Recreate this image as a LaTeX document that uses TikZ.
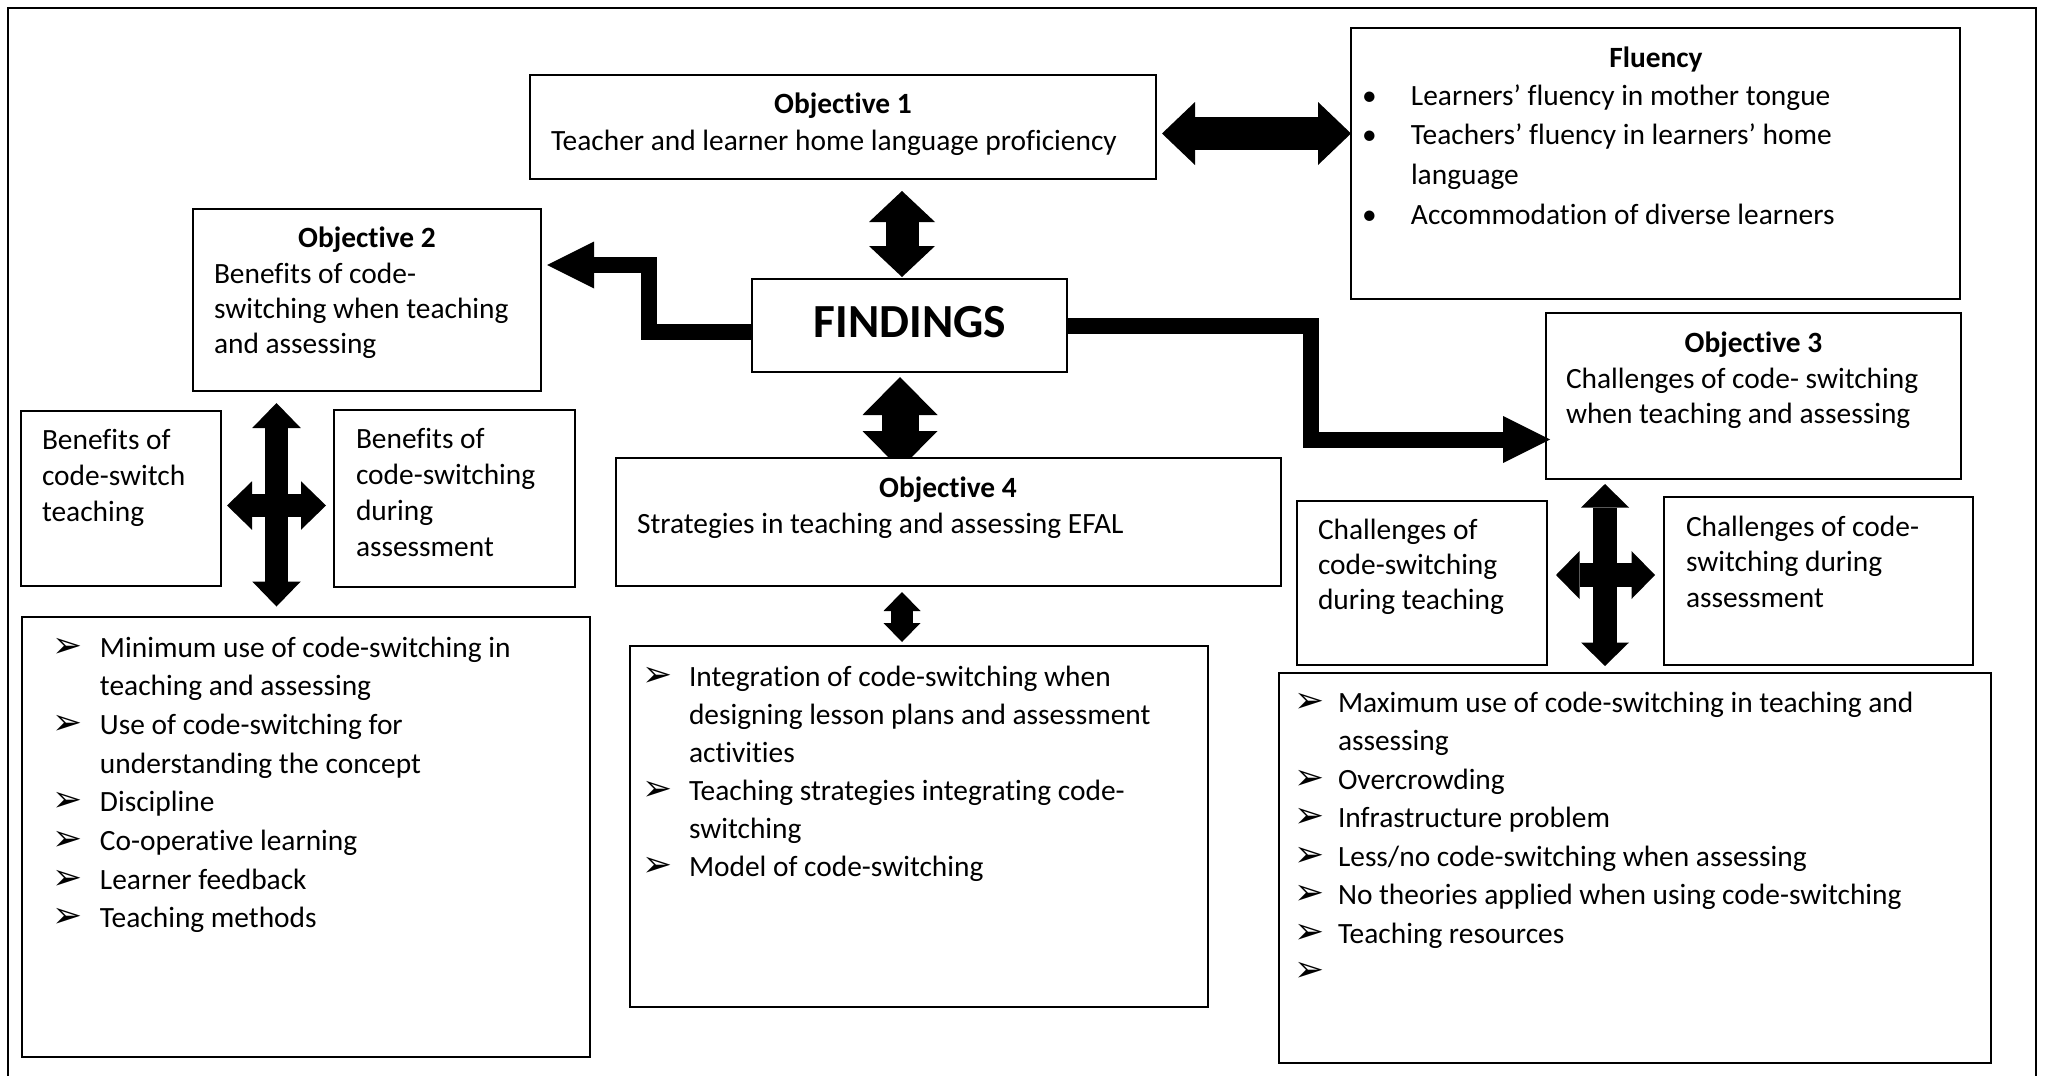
\documentclass[tikz,border=0pt]{standalone}
\usepackage{fontspec}
\setmainfont{Carlito}[Ligatures={TeX,NoCommon}]
\newfontfamily\dingfont{DejaVu Sans}
\usetikzlibrary{arrows.meta,fit,calc}

% list markers
\newcommand\arrowbullet{{\dingfont\fontsize{18}{18}\selectfont ➢}}
\newcommand\itm[1]{\makebox[#1][l]{\arrowbullet}}
\newcommand\dotitm[1]{\makebox[#1][l]{•}}
\newcommand\contline[1]{\hspace*{#1}}
% a framed box given by its top-left and bottom-right corners
\newcommand\boxnode[5]{%
  \coordinate (#1-a) at (#2,#3);
  \coordinate (#1-b) at (#4,#5);
  \node[box, fit=(#1-a)(#1-b)] (#1) {};}

\tikzset{
  x=0.5pt, y=-0.5pt,
  box/.style={draw, line width=0.8pt, inner sep=0pt, outer sep=0pt},
  txt/.style={anchor=north west, inner sep=0pt, outer sep=0pt, align=left,
              font=\fontsize{14.7}{#1}\selectfont, yshift=0.7*#1pt},
  ttl/.style={anchor=base, inner sep=0pt, outer sep=0pt,
              font=\fontsize{14.7}{17.75}\selectfont\bfseries},
  blk/.style n args={3}{line width=#1,
     {Triangle[length=#3,width=#2,line width=0pt 0]}-{Triangle[length=#3,width=#2,line width=0pt 0]}},
  elb/.style={line width=8pt, line join=miter,
     -{Triangle[length=23.5pt,width=23.5pt,line width=0pt 0]}},
}

\begin{document}
\begin{tikzpicture}
\useasboundingbox (0,0) rectangle (2046,1076);

% outer frame, open at the bottom
\draw[line width=1.3pt] (8,1090) -- (8,8) -- (2036,8) -- (2036,1090);

% boxes
\boxnode{obj1}{530}{75}{1156}{179}
\boxnode{flu}{1351}{28}{1960}{299}
\boxnode{obj2}{193}{209}{541}{391}
\boxnode{findings}{752}{279}{1067}{372}
\boxnode{obj3}{1546}{313}{1961}{479}
\boxnode{obj4}{616}{458}{1281}{586}
\boxnode{ben1}{21}{411}{221}{586}
\boxnode{ben2}{334}{410}{575}{587}
\boxnode{list2}{22}{617}{590}{1057}
\boxnode{list4}{630}{646}{1208}{1007}
\boxnode{chal1}{1297}{501}{1547}{665}
\boxnode{chal2}{1664}{497}{1973}{665}
\boxnode{list3}{1279}{673}{1991}{1063}

% texts
\node[ttl] (obj1h) at (843,113) {Objective 1};
\node[txt=19.25] (obj1t) at (551,150) {\strut Teacher and learner home language proficiency};

\node[ttl] (fluh) at (1656,67) {Fluency};
\node[txt=19.85] (flut) at (1362,105) {%
  \strut\dotitm{24.5pt}Learners’ fluency in mother tongue\\
  \strut\dotitm{24.5pt}Teachers’ fluency in learners’ home\\
  \strut\contline{24.5pt}language\\
  \strut\dotitm{24.5pt}Accommodation of diverse learners};

\node[ttl] (obj2h) at (367,247) {Objective 2};
\node[txt=17.5] (obj2t) at (214,283) {%
  \strut Benefits of code-\\
  \strut switching when teaching\\
  \strut and assessing};

\node[anchor=base, inner sep=0pt, font=\fontsize{23.75}{28}\selectfont\bfseries]
  (findingst) at (910,337) {FINDINGS};

\node[ttl] (obj3h) at (1753.5,352) {Objective 3};
\node[txt=17.5] (obj3t) at (1566,388) {%
  \strut Challenges of code- switching\\
  \strut when teaching and assessing};

\node[ttl] (obj4h) at (948,497) {Objective 4};
\node[txt=17.5] (obj4t) at (637,533) {\strut Strategies in teaching and assessing EFAL};

\node[txt=18] (ben1t) at (42,449) {%
  \strut Benefits of\\
  \strut code-switch\\
  \strut teaching};
\node[txt=18] (ben2t) at (356,448) {%
  \strut Benefits of\\
  \strut code-switching\\
  \strut during\\
  \strut assessment};

\node[txt=17.5] (chal1t) at (1318,539) {%
  \strut Challenges of\\
  \strut code-switching\\
  \strut during teaching};
\node[txt=17.75] (chal2t) at (1686,536) {%
  \strut Challenges of code-\\
  \strut switching during\\
  \strut assessment};

\node[txt=19.35] (list2t) at (53,657) {%
  \strut\itm{23.5pt}Minimum use of code-switching in\\
  \strut\contline{23.5pt}teaching and assessing\\
  \strut\itm{23.5pt}Use of code-switching for\\
  \strut\contline{23.5pt}understanding the concept\\
  \strut\itm{23.5pt}Discipline\\
  \strut\itm{23.5pt}Co-operative learning\\
  \strut\itm{23.5pt}Learner feedback\\
  \strut\itm{23.5pt}Teaching methods};

\node[txt=19] (list4t) at (642,686) {%
  \strut\itm{23.5pt}Integration of code-switching when\\
  \strut\contline{23.5pt}designing lesson plans and assessment\\
  \strut\contline{23.5pt}activities\\
  \strut\itm{23.5pt}Teaching strategies integrating code-\\
  \strut\contline{23.5pt}switching\\
  \strut\itm{23.5pt}Model of code-switching};

\node[txt=19.25] (list3t) at (1294,712) {%
  \strut\itm{22pt}Maximum use of code-switching in teaching and\\
  \strut\contline{22pt}assessing\\
  \strut\itm{22pt}Overcrowding\\
  \strut\itm{22pt}Infrastructure problem\\
  \strut\itm{22pt}Less/no code-switching when assessing\\
  \strut\itm{22pt}No theories applied when using code-switching\\
  \strut\itm{22pt}Teaching resources\\
  \strut\itm{22pt}};

% guide coordinates for the block arrows
\coordinate (ay) at (0,133.5);
\coordinate (bx) at (902,0);
\coordinate (cx) at (900,0);
\coordinate (dx) at (902,0);
\coordinate (ex) at (276.5,0);
\coordinate (ey) at (0,505.5);
\coordinate (fx) at (1605,0);
\coordinate (fy) at (0,575);
\coordinate (gk) at (648.5,265);
\coordinate (hk) at (1310.5,439.5);

% block arrows
\draw[blk={16.5pt}{31.5pt}{16.5pt}, shorten <=3pt] (obj1.east |- ay) -- (flu.west |- ay);
\draw[blk={16.5pt}{33pt}{15.5pt}, shorten <=6pt, shorten >=1pt] (obj1.south -| bx) -- (findings.north -| bx);
\begin{scope}
  \clip (findings.north west) rectangle (obj4.north east);
  \draw[blk={18.5pt}{37.5pt}{19pt}, shorten <=2.5pt, shorten >=-5.5pt] (findings.south -| cx) -- (obj4.north -| cx);
\end{scope}
\draw[blk={11pt}{18.5pt}{9.5pt}, shorten <=3pt, shorten >=2pt] (obj4.south -| dx) -- (list4.north -| dx);

\draw[blk={11.75pt}{24.25pt}{12.5pt}, shorten <=6pt, shorten >=5.25pt] (obj2.south -| ex) -- (list2.north -| ex);
\draw[blk={11.75pt}{24.25pt}{12.5pt}, shorten <=3pt, shorten >=4pt] (ben1.east |- ey) -- (ben2.west |- ey);

\draw[blk={12pt}{24pt}{11.75pt}, shorten <=2.5pt, shorten >=3.5pt] (obj3.south -| fx) -- (list3.north -| fx);
\draw[blk={12pt}{24pt}{11.75pt}, shorten <=4.5pt, shorten >=4.5pt] (chal1.east |- fy) -- (chal2.west |- fy);

% elbow arrows out of the findings box
\draw[elb, shorten >=3pt] ([yshift=-3.25pt]findings.west) -| (gk) -- (obj2.east |- gk);
\draw[elb, shorten >=-2pt] (findings.east) -| (hk) -- (obj3.west |- hk);
\end{tikzpicture}
\end{document}
